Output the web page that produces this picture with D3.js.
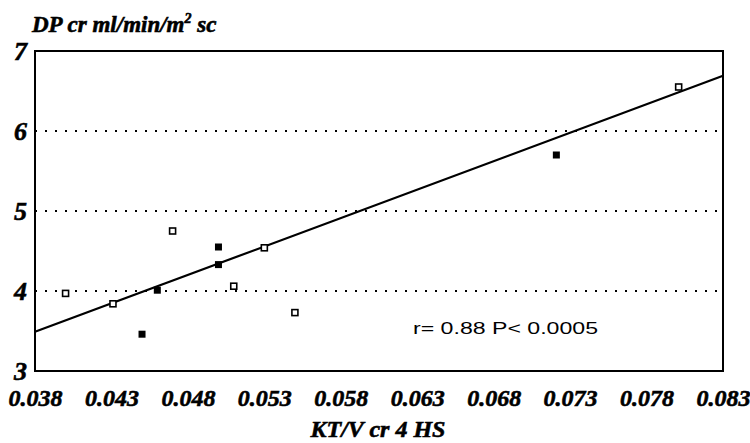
<!DOCTYPE html>
<html>
<head>
<meta charset="utf-8">
<script src="https://cdn.jsdelivr.net/npm/d3@7"></script>
<style>
  body { margin: 0; background: #fff; }
  svg { display: block; }
</style>
</head>
<body>
<svg id="fig_scatter"></svg>
<script>
'use strict';

// data
var x_ticks = [0.038, 0.043, 0.048, 0.053, 0.058, 0.063, 0.068, 0.073, 0.078, 0.083];
var y_ticks = [3, 4, 5, 6, 7];
var y_grid = [4, 5, 6];

// open squares
var x_open = [0.0400, 0.0431, 0.0470, 0.0510, 0.0530, 0.0550, 0.0801];
var y_open = [3.97, 3.84, 4.75, 4.06, 4.54, 3.73, 6.55];

// filled squares
var x_filled = [0.0450, 0.0460, 0.0500, 0.0500, 0.0721];
var y_filled = [3.46, 4.01, 4.33, 4.55, 5.70];

// regression line ends
var fit_x = [0.038, 0.083];
var fit_y = [3.49, 6.69];

var stat_text = 'r= 0.88 P< 0.0005';

var width = 750, height = 443;
var margin = {top: 51, right: 27, bottom: 72, left: 35};
var serif = '"Liberation Serif", "Times New Roman", serif';

var svg = d3.select('#fig_scatter')
    .attr('width', width)
    .attr('height', height);

var x = d3.scaleLinear()
    .domain([0.038, 0.083])
    .range([margin.left, width - margin.right]);
var y = d3.scaleLinear()
    .domain([3, 7])
    .range([height - margin.bottom, margin.top]);

// heavy bold italic serif, like the scanned labels
function heavy(sel, size) {
    sel.attr('font-family', serif)
        .attr('font-size', size)
        .attr('font-weight', 'bold')
        .attr('font-style', 'italic')
        .attr('fill', '#000')
        .attr('stroke', '#000')
        .attr('stroke-width', 0.6);
}

// dotted grid
svg.append('g')
    .selectAll('line')
    .data(y_grid)
    .enter()
    .append('line')
    .attr('x1', x(0.038))
    .attr('x2', x(0.083))
    .attr('y1', function(d) { return y(d); })
    .attr('y2', function(d) { return y(d); })
    .attr('stroke', '#000')
    .attr('stroke-width', 2)
    .attr('stroke-dasharray', '2,8');

// frame
svg.append('rect')
    .attr('x', x(0.038))
    .attr('y', y(7))
    .attr('width', x(0.083) - x(0.038))
    .attr('height', y(3) - y(7))
    .attr('fill', 'none')
    .attr('stroke', '#000')
    .attr('stroke-width', 2);

// axes, labels only
var x_axis = d3.axisBottom(x)
    .tickValues(x_ticks)
    .tickSize(0)
    .tickPadding(18)
    .tickFormat(d3.format('.3f'));
var gx = svg.append('g')
    .attr('transform', 'translate(0,' + y(3) + ')')
    .call(x_axis);
gx.select('.domain').remove();
heavy(gx.selectAll('text'), 24);

var y_axis = d3.axisLeft(y)
    .tickValues(y_ticks)
    .tickSize(0)
    .tickPadding(8)
    .tickFormat(d3.format('d'));
var gy = svg.append('g')
    .attr('transform', 'translate(' + x(0.038) + ',0)')
    .call(y_axis);
gy.select('.domain').remove();
heavy(gy.selectAll('text'), 26);

// regression line
var line = d3.line()
    .x(function(d) { return x(d[0]); })
    .y(function(d) { return y(d[1]); });
svg.append('path')
    .datum(d3.zip(fit_x, fit_y))
    .attr('d', line)
    .attr('fill', 'none')
    .attr('stroke', '#000')
    .attr('stroke-width', 2.2);

// points
var s = 6;
svg.append('g')
    .selectAll('rect')
    .data(d3.zip(x_open, y_open))
    .enter()
    .append('rect')
    .attr('x', function(d) { return x(d[0]) - s / 2; })
    .attr('y', function(d) { return y(d[1]) - s / 2; })
    .attr('width', s)
    .attr('height', s)
    .attr('fill', '#fff')
    .attr('stroke', '#000')
    .attr('stroke-width', 1.6);

var sf = 7;
svg.append('g')
    .selectAll('rect')
    .data(d3.zip(x_filled, y_filled))
    .enter()
    .append('rect')
    .attr('x', function(d) { return x(d[0]) - sf / 2; })
    .attr('y', function(d) { return y(d[1]) - sf / 2; })
    .attr('width', sf)
    .attr('height', sf)
    .attr('fill', '#000');

// statistics
svg.append('text')
    .attr('x', 413)
    .attr('y', 334)
    .attr('font-family', '"Liberation Sans", Arial, sans-serif')
    .attr('font-size', 17)
    .attr('fill', '#000')
    .attr('textLength', 185)
    .attr('lengthAdjust', 'spacingAndGlyphs')
    .text(stat_text);

// axis titles
var title = svg.append('text')
    .attr('x', 32)
    .attr('y', 32);
heavy(title, 23);
title.append('tspan').text('DP cr ml/min/m');
title.append('tspan').attr('dy', -9).attr('font-size', 14).text('2');
title.append('tspan').attr('dy', 9).text(' sc');

var xlab = svg.append('text')
    .attr('x', 378)
    .attr('y', 437)
    .attr('text-anchor', 'middle')
    .text('KT/V cr 4 HS');
heavy(xlab, 24);
</script>
</body>
</html>
